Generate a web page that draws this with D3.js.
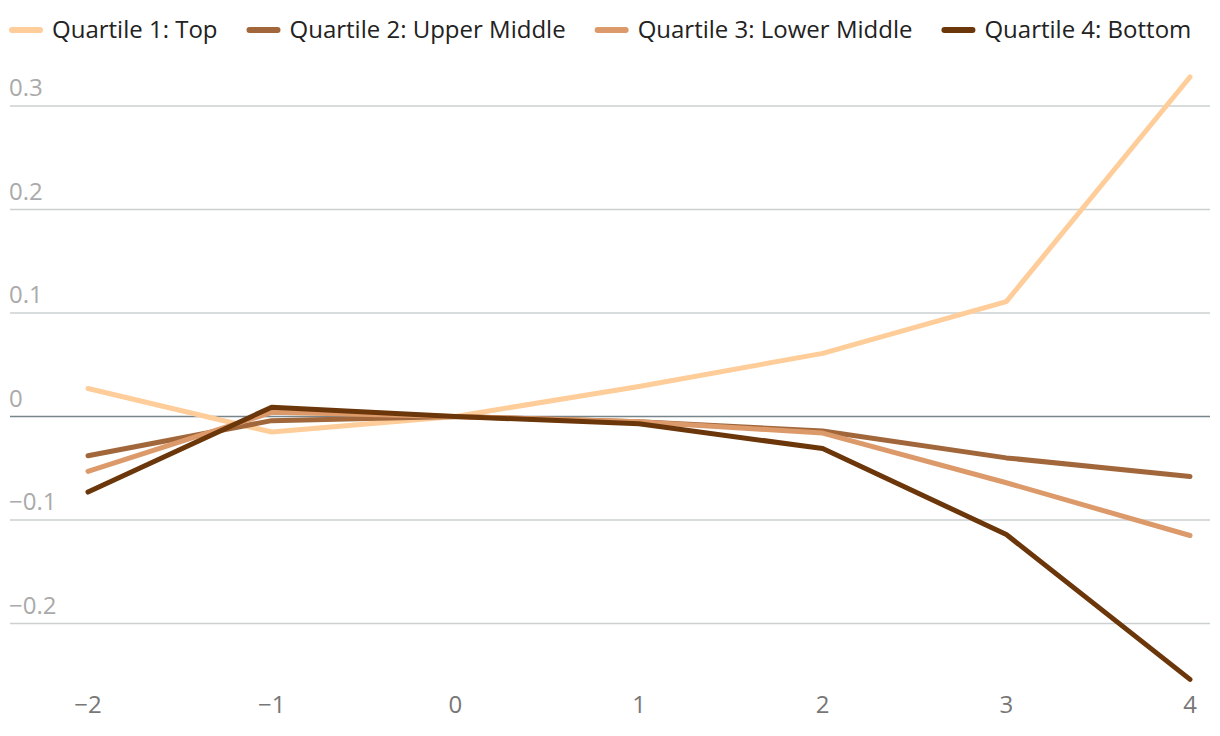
<!DOCTYPE html>
<html>
<head>
<meta charset="utf-8">
<script src="https://cdn.jsdelivr.net/npm/d3@7"></script>
<style>
  body { margin: 0; background: #fff; }
  svg text { font-family: "Open Sans", "Noto Sans", sans-serif; }
</style>
</head>
<body>
<svg id="chart" width="1220" height="736"></svg>
<script>
// x positions (periods relative to event)
const periods = [-2, -1, 0, 1, 2, 3, 4];

const seriesNames = [
    "Quartile 1: Top",
    "Quartile 2: Upper Middle",
    "Quartile 3: Lower Middle",
    "Quartile 4: Bottom"
];

const q1Values = [0.027, -0.015, 0, 0.029, 0.061, 0.111, 0.328];
const q2Values = [-0.038, -0.004, 0, -0.005, -0.014, -0.040, -0.058];
const q3Values = [-0.053, 0.004, 0, -0.005, -0.016, -0.064, -0.115];
const q4Values = [-0.073, 0.009, 0, -0.007, -0.031, -0.114, -0.254];

const yTicks = [-0.2, -0.1, 0, 0.1, 0.2, 0.3];
const xTicks = [-2, -1, 0, 1, 2, 3, 4];

const colors = ["#ffcd99", "#a1673b", "#dc9a6b", "#6b3609"];

const allSeries = [q1Values, q2Values, q3Values, q4Values];

const svg = d3.select("#chart");

const x = d3.scaleLinear().domain([-2, 4]).range([88, 1190]);
const y = d3.scaleLinear().domain([-0.2, 0.3]).range([623.5, 106]);

const fmt = v => v === 0 ? "0" : d3.format(".1f")(v).replace("-", "\u2212");

// grid lines + y labels
const grid = svg.append("g");
grid.selectAll("line")
    .data(yTicks)
    .join("line")
    .attr("x1", 10)
    .attr("x2", 1210)
    .attr("y1", d => y(d))
    .attr("y2", d => y(d))
    .attr("stroke", d => d === 0 ? "#78858b" : "#ccd0d0")
    .attr("stroke-width", 1.5);

grid.selectAll("text")
    .data(yTicks)
    .join("text")
    .attr("x", 9)
    .attr("y", d => y(d) - 10)
    .attr("font-size", "24px")
    .attr("fill", "#aaaaaa")
    .text(fmt);

// x axis labels
svg.append("g")
    .selectAll("text")
    .data(xTicks)
    .join("text")
    .attr("x", d => x(d))
    .attr("y", 713)
    .attr("text-anchor", "middle")
    .attr("font-size", "24px")
    .attr("fill", "#777777")
    .text(d => d < 0 ? "\u2212" + Math.abs(d) : d);

// lines
const line = d3.line()
    .x((d, i) => x(periods[i]))
    .y(d => y(d));

svg.append("g")
    .selectAll("path")
    .data(allSeries)
    .join("path")
    .attr("d", line)
    .attr("fill", "none")
    .attr("stroke", (d, i) => colors[i])
    .attr("stroke-width", 5)
    .attr("stroke-linecap", "round")
    .attr("stroke-linejoin", "round");

// legend
const legend = svg.append("g");
let cursor = 10;
seriesNames.forEach((name, i) => {
    legend.append("line")
        .attr("x1", cursor + 2)
        .attr("x2", cursor + 30)
        .attr("y1", 30)
        .attr("y2", 30)
        .attr("stroke", colors[i])
        .attr("stroke-width", 6)
        .attr("stroke-linecap", "round");
    const t = legend.append("text")
        .attr("x", cursor + 42)
        .attr("y", 38)
        .attr("font-size", "24px")
        .attr("fill", "#222222")
        .text(name);
    cursor = cursor + 42 + t.node().getComputedTextLength() + 30;
});
</script>
</body>
</html>
